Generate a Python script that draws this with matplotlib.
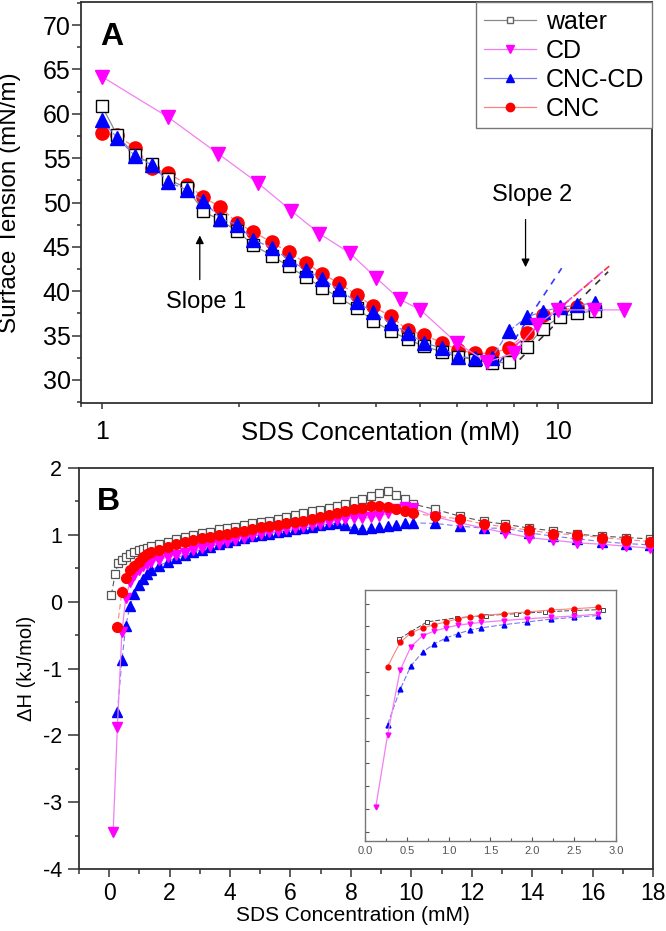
import matplotlib
matplotlib.use("Agg")
import matplotlib.pyplot as plt
from matplotlib.ticker import MultipleLocator, FixedLocator, LogLocator, NullFormatter, FuncFormatter
from matplotlib.lines import Line2D

plt.rcParams['font.family'] = ['Liberation Sans', 'DejaVu Sans']
plt.rcParams['axes.unicode_minus'] = False

# ---------------- panel A : surface tension vs SDS (log axis) ----------------
concA = [1.0, 1.08, 1.18, 1.29, 1.4, 1.54, 1.67, 1.82, 1.98, 2.15, 2.36, 2.57, 2.8, 3.04, 3.31,
         3.62, 3.93, 4.3, 4.69, 5.08, 5.57, 6.04, 6.58, 7.17, 7.81, 8.55, 9.27, 10.1, 11.0, 12.05]
stA_water = [60.9, 57.6, 55.4, 54.3, 52.6, 51.6, 49.0, 48.0, 46.8, 45.2, 44.0, 42.8, 41.6, 40.4, 39.3,
             38.1, 36.7, 35.5, 34.6, 33.8, 33.2, 32.6, 32.3, 31.9, 32.0, 33.7, 35.8, 37.1, 37.5, 37.8]
stA_cnccd = [59.3, 57.3, 55.3, 54.2, 52.3, 51.4, 50.2, 48.2, 47.5, 45.8, 44.9, 43.6, 42.4, 41.4, 40.2,
             38.8, 37.7, 36.4, 35.3, 34.2, 33.6, 32.6, 32.5, 32.5, 35.5, 37.1, 37.7, 38.2, 38.4, 38.7]
stA_cnc = [57.8, 57.6, 56.2, 53.9, 53.3, 52.0, 50.6, 49.5, 47.7, 46.7, 45.5, 44.4, 43.2, 42.0, 40.9,
           39.6, 38.3, 37.2, 35.6, 35.1, 34.2, 33.4, 33.0, 33.0, 33.6, 35.3, 37.3, 37.8, 38.2]
concA_cd = [1.0, 1.4, 1.8, 2.2, 2.6, 3.0, 3.5, 4.0, 4.5, 5.0, 6.0, 7.0, 8.0, 9.0, 10.0, 12.0, 14.0]
stA_cd = [64.2, 59.6, 55.5, 52.2, 49.1, 46.5, 44.3, 41.5, 39.1, 37.9, 34.2, 32.0, 33.0, 36.2, 37.9, 37.9, 37.9]

# slope-2 fitted lines (two end points each)
fit_cnccd_x, fit_cnccd_y = [7.46, 10.2], [32.0, 42.6]
fit_cnc_x, fit_cnc_y = [7.96, 13.3], [33.6, 43.3]
fit_cd_x, fit_cd_y = [7.7, 12.8], [33.0, 42.6]
fit_water_x, fit_water_y = [8.25, 12.9], [32.3, 42.2]

# ---------------- panel B : enthalpy vs SDS ----------------
concB = [0.27, 0.42, 0.55, 0.69, 0.83, 0.97, 1.11, 1.25, 1.39,
         1.66, 1.94, 2.22, 2.5, 2.78, 3.06, 3.34, 3.62, 3.9, 4.18,
         4.46, 4.74, 5.02, 5.3, 5.58, 5.86, 6.14, 6.42, 6.7, 6.98,
         7.26, 7.54, 7.82, 8.1, 8.38, 8.66, 8.94, 9.22, 9.5, 9.78, 10.06,
         10.8, 11.6, 12.4, 13.1, 13.9, 14.7, 15.5, 16.3, 17.1, 17.9]
dH_cnc = [-0.38, 0.15, 0.36, 0.47, 0.54, 0.60, 0.67, 0.71, 0.74, 0.78,
          0.82, 0.86, 0.89, 0.92, 0.95, 0.97, 1.00, 1.02, 1.04, 1.06,
          1.08, 1.11, 1.13, 1.15, 1.17, 1.19, 1.21, 1.24, 1.26, 1.29,
          1.32, 1.35, 1.38, 1.40, 1.43, 1.43, 1.41, 1.38, 1.35, 1.32,
          1.28, 1.24, 1.16, 1.12, 1.07, 1.02, 1.00, 0.96, 0.93, 0.90]
dH_cnccd = [-1.65, -0.88, -0.36, -0.06, 0.12, 0.25, 0.34, 0.42, 0.47, 0.54,
            0.60, 0.66, 0.70, 0.74, 0.78, 0.82, 0.86, 0.89, 0.92, 0.95,
            0.98, 1.00, 1.02, 1.04, 1.06, 1.08, 1.10, 1.12, 1.14, 1.16,
            1.18, 1.14, 1.10, 1.09, 1.10, 1.12, 1.13, 1.15, 1.17, 1.18,
            1.17, 1.13, 1.10, 1.10, 1.03, 0.98, 0.94, 0.90, 0.87, 0.85]
concB_cd = [0.13] + concB
dH_cd = [-3.45, -1.88, -0.46, 0.06, 0.30, 0.40, 0.47, 0.53, 0.56, 0.59, 0.63,
         0.67, 0.70, 0.73, 0.77, 0.80, 0.84, 0.87, 0.90, 0.93, 0.96,
         0.99, 1.02, 1.04, 1.06, 1.08, 1.10, 1.12, 1.14, 1.16, 1.19,
         1.22, 1.24, 1.25, 1.25, 1.26, 1.28, 1.32, 1.38, 1.42, 1.40,
         1.27, 1.18, 1.10, 1.03, 0.96, 0.92, 0.88, 0.86, 0.83, 0.80]
concB_water = [0.07, 0.2, 0.3] + concB[1:]
dH_water = [0.10, 0.42, 0.58,
            0.63, 0.67, 0.71, 0.74, 0.77, 0.79, 0.81, 0.83,
            0.87, 0.90, 0.94, 0.97, 1.00, 1.03, 1.05, 1.08, 1.10, 1.12,
            1.14, 1.17, 1.19, 1.21, 1.24, 1.26, 1.29, 1.32, 1.35, 1.37,
            1.40, 1.43, 1.46, 1.50, 1.53, 1.58, 1.63, 1.65, 1.60, 1.54, 1.46,
            1.38, 1.28, 1.20, 1.16, 1.10, 1.06, 1.01, 0.98, 0.96, 0.94]
# inset: water run plotted with its own (coarser) points
inset_water_x = [0.41, 0.74, 1.1, 1.45, 1.8, 2.15, 2.5, 2.84]
inset_water_y = [0.23, 0.60, 0.69, 0.74, 0.78, 0.82, 0.85, 0.87]

labels = ['water', 'CD', 'CNC-CD', 'CNC']

# marker colour / line colour per series
C_W, L_W = 'black', '#8a8a8a'
C_CD, L_CD = '#ff00ff', '#f27ff2'
C_B, L_B = '#0000ff', '#7a7aee'
C_R, L_R = '#ff0000', '#ff8080'
SPINE = '#333333'

fig = plt.figure(figsize=(6.66, 9.31), dpi=100)
axA = fig.add_axes([0.1216, 0.5671, 0.8574, 0.4307])
axB = fig.add_axes([0.1186, 0.0666, 0.8619, 0.4307])
axI = fig.add_axes([0.548, 0.0967, 0.3769, 0.2696])

# ---- panel A
axA.plot(concA, stA_water, color=L_W, lw=0.9, marker='s', ms=8.5, mfc='white', mec=C_W, mew=1.0, zorder=3)
axA.plot(concA[:len(stA_cnc)], stA_cnc, color=L_R, lw=0.9, ls=(0, (5, 2)), marker='o', ms=9.5,
         mfc=C_R, mec=C_R, zorder=2)
axA.plot(concA, stA_cnccd, color=L_B, lw=0.9, ls=(0, (5, 2)), marker='^', ms=9.5,
         mfc=C_B, mec=C_B, zorder=4)
axA.plot(concA_cd, stA_cd, color=L_CD, lw=0.9, marker='v', ms=10, mfc=C_CD, mec=C_CD, zorder=5)

axA.plot(fit_cnccd_x, fit_cnccd_y, color='#3a3aff', lw=1.2, ls=(0, (4, 4)), zorder=1)
axA.plot(fit_cnc_x, fit_cnc_y, color='#ff3030', lw=1.2, ls=(0, (4, 4)), zorder=1)
axA.plot(fit_cd_x, fit_cd_y, color='#ee44ee', lw=1.2, ls=(0, (4, 4)), zorder=1)
axA.plot(fit_water_x, fit_water_y, color='#333333', lw=1.2, ls=(0, (4, 4)), zorder=1)

axA.set_xscale('log')
axA.set_xlim(0.9, 16.1)
axA.set_ylim(27.4, 72.6)
axA.xaxis.set_major_locator(FixedLocator([1, 10]))
axA.xaxis.set_major_formatter(FuncFormatter(lambda v, p: '%g' % v))
axA.xaxis.set_minor_locator(LogLocator(base=10, subs=[2, 3, 4, 5, 6, 7, 8, 9]))
axA.xaxis.set_minor_formatter(NullFormatter())
axA.yaxis.set_major_locator(MultipleLocator(5))
axA.yaxis.set_minor_locator(MultipleLocator(2.5))
axA.tick_params(which='both', direction='out', top=False, right=False, color=SPINE, width=1.1)
axA.tick_params(axis='y', which='major', length=6.5, labelsize=18, pad=1)
axA.tick_params(axis='y', which='minor', length=3)
axA.tick_params(axis='x', which='major', length=4.5, labelsize=18, pad=8)
axA.tick_params(axis='x', which='minor', length=3)
axA.set_ylabel('Surface Tension (mN/m)', fontsize=17.5)
axA.yaxis.set_label_coords(-0.105, 0.5)
axA.set_xlabel('SDS Concentation (mM)', fontsize=18.5)
axA.xaxis.set_label_coords(0.524, -0.045)
axA.text(0.033, 0.893, 'A', transform=axA.transAxes, fontsize=23, fontweight='bold', va='baseline')

axA.annotate('', xy=(1.64, 46.6), xytext=(1.64, 41.0),
             arrowprops=dict(arrowstyle='-|>', color='black', lw=0.9, mutation_scale=12))
axA.text(1.69, 38.8, 'Slope 1', fontsize=17, ha='center', va='center')
axA.annotate('', xy=(8.5, 42.4), xytext=(8.5, 48.4),
             arrowprops=dict(arrowstyle='-|>', color='black', lw=0.9, mutation_scale=12))
axA.text(8.8, 50.8, 'Slope 2', fontsize=17, ha='center', va='center')

handles = [
    Line2D([], [], color=L_W, lw=0.9, marker='s', ms=5, mfc='white', mec='#666666'),
    Line2D([], [], color=L_CD, lw=0.9, marker='v', ms=6, mfc=C_CD, mec=C_CD),
    Line2D([], [], color=L_B, lw=0.9, marker='^', ms=6, mfc=C_B, mec=C_B),
    Line2D([], [], color=L_R, lw=0.9, marker='o', ms=6, mfc=C_R, mec=C_R),
]
leg = axA.legend(handles, labels, loc='upper right', bbox_to_anchor=(1.0, 1.0), borderaxespad=0,
                 fontsize=18, handlelength=2.1, handletextpad=0.4, labelspacing=0.2,
                 borderpad=0.3, fancybox=False, framealpha=1, edgecolor='#777777')
leg.get_frame().set_linewidth(1.0)

# ---- panel B
axB.plot(concB_water, dH_water, color='#555555', lw=0.8, ls=(0, (5, 3)), marker='s', ms=6,
         mfc='white', mec='#555555', mew=0.9, zorder=2)
axB.plot(concB, dH_cnccd, color=L_B, lw=0.8, ls=(0, (5, 3)), marker='^', ms=7,
         mfc=C_B, mec=C_B, zorder=3)
axB.plot(concB_cd, dH_cd, color=L_CD, lw=0.9, marker='v', ms=7, mfc=C_CD, mec=C_CD, zorder=4)
axB.plot(concB, dH_cnc, color=L_R, lw=0.8, ls=(0, (5, 3)), marker='o', ms=7,
         mfc=C_R, mec=C_R, zorder=5)
axB.set_xlim(-1, 18)
axB.set_ylim(-4, 2)
axB.xaxis.set_major_locator(MultipleLocator(2))
axB.xaxis.set_minor_locator(MultipleLocator(1))
axB.yaxis.set_major_locator(MultipleLocator(1))
axB.yaxis.set_minor_locator(MultipleLocator(0.5))
axB.tick_params(which='both', direction='out', top=False, right=False, color=SPINE, width=1.1)
axB.tick_params(axis='x', which='major', length=6, labelsize=16.5, pad=3.5)
axB.tick_params(axis='x', which='minor', length=3.5)
axB.tick_params(axis='y', which='major', length=8, labelsize=15.5, pad=4)
axB.tick_params(axis='y', which='minor', length=3)
axB.set_xlabel('SDS Concentration (mM)', fontsize=15)
axB.xaxis.set_label_coords(0.477, -0.093)
axB.set_ylabel('\u0394H (kJ/mol)', fontsize=14.5)
axB.yaxis.set_label_coords(-0.075, 0.5)
axB.text(0.031, 0.895, 'B', transform=axB.transAxes, fontsize=23, fontweight='bold', va='baseline')

# ---- inset
n_in = sum(1 for c in concB if c <= 2.9)
axI.plot(inset_water_x, inset_water_y, color='#444444', lw=0.7, ls=(0, (5, 2)), marker='s', ms=3,
         mfc='white', mec='#444444', mew=0.7, zorder=2)
axI.plot(concB[:n_in], dH_cnccd[:n_in], color=L_B, lw=0.8, ls=(0, (5, 2)), marker='^', ms=3.5,
         mfc=C_B, mec=C_B, zorder=3)
axI.plot(concB_cd[:n_in + 1], dH_cd[:n_in + 1], color=L_CD, lw=0.9, marker='v', ms=3.5,
         mfc=C_CD, mec=C_CD, zorder=4)
axI.plot(concB[:n_in], dH_cnc[:n_in], color=L_R, lw=0.8, marker='o', ms=3.5,
         mfc=C_R, mec=C_R, zorder=5)
axI.set_xlim(0, 3)
axI.set_ylim(-4.2, 1.3)
axI.xaxis.set_major_locator(MultipleLocator(0.5))
axI.xaxis.set_minor_locator(MultipleLocator(0.25))
axI.yaxis.set_major_locator(MultipleLocator(0.5))
axI.tick_params(which='both', direction='in', top=False, right=False, color='#555555',
                labelsize=8, labelcolor='#555555', length=3, width=0.8)
axI.tick_params(which='minor', length=2)
axI.set_yticklabels([])
for s in axI.spines.values():
    s.set_color('#777777')
    s.set_linewidth(1.0)

for ax in (axA, axB):
    for s in ax.spines.values():
        s.set_color(SPINE)
        s.set_linewidth(1.3)

fig.savefig('out.png', dpi=100)
